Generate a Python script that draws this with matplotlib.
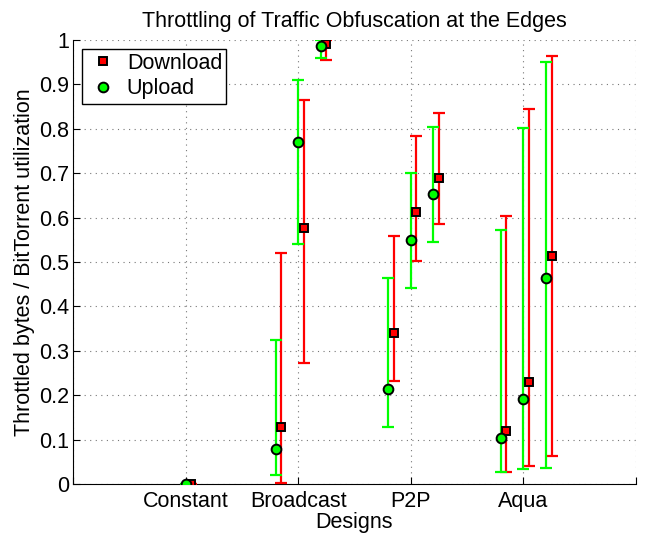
import matplotlib
matplotlib.use('Agg')
import matplotlib.pyplot as plt
import numpy as np

plt.rcParams['font.family'] = ['Liberation Sans', 'DejaVu Sans']

# categories on the x axis and the configurations inside each of them
CATEGORIES = ['Constant', 'Broadcast', 'P2P', 'Aqua']
CONFIG_COUNT = [1, 3, 3, 3]

# upload utilization: mean and error bar lower / upper ends
UPLOAD_MEAN = [0.0, 0.078, 0.771, 0.987, 0.213, 0.549, 0.654, 0.103, 0.192, 0.463]
UPLOAD_LO = [0.0, 0.020, 0.541, 0.959, 0.129, 0.442, 0.545, 0.026, 0.034, 0.037]
UPLOAD_HI = [0.0, 0.325, 0.910, 1.000, 0.463, 0.701, 0.805, 0.572, 0.801, 0.951]

# download utilization: mean and error bar lower / upper ends
DOWNLOAD_MEAN = [0.0, 0.129, 0.576, 0.992, 0.340, 0.612, 0.690, 0.120, 0.230, 0.513]
DOWNLOAD_LO = [0.0, 0.003, 0.272, 0.955, 0.233, 0.503, 0.585, 0.028, 0.041, 0.062]
DOWNLOAD_HI = [0.0, 0.521, 0.865, 1.000, 0.558, 0.784, 0.835, 0.603, 0.844, 0.965]

Y_TICKS = [0, 0.1, 0.2, 0.3, 0.4, 0.5, 0.6, 0.7, 0.8, 0.9, 1]
Y_TICK_LABELS = ['0', '0.1', '0.2', '0.3', '0.4', '0.5', '0.6', '0.7', '0.8', '0.9', '1']

FS = 15.5


def config_positions():
    """x position of every configuration, spread around its category"""
    xs = []
    for i, n in enumerate(CONFIG_COUNT):
        if n == 1:
            xs.append(i + 1.0)
        else:
            for k in range(n):
                xs.append(i + 1 + (k - (n - 1) / 2) * 0.2)
    return np.array(xs)


def draw_series(ax, x, mean, lo, hi, marker, color, label, ms):
    mean = np.array(mean)
    yerr = [mean - np.array(lo), np.array(hi) - mean]
    ax.errorbar(x, mean, yerr=yerr, fmt='none', ecolor=color,
                elinewidth=1.6, capsize=4, capthick=1.6, zorder=3)
    ax.plot(x, mean, linestyle='none', marker=marker, markersize=ms,
            markerfacecolor=color, markeredgecolor='black',
            markeredgewidth=1.4, label=label, zorder=4)


def main():
    fig = plt.figure(figsize=(6.46, 5.33), dpi=100)
    ax = fig.add_axes([0.113, 0.092, 0.8715, 0.833])

    x = config_positions()
    draw_series(ax, x + 0.05, DOWNLOAD_MEAN, DOWNLOAD_LO, DOWNLOAD_HI,
                's', '#ff0000', 'Download', 6)
    draw_series(ax, x, UPLOAD_MEAN, UPLOAD_LO, UPLOAD_HI,
                'o', '#00ff00', 'Upload', 7)

    ax.set_xlim(0, 5)
    ax.set_ylim(0, 1)
    ax.set_xticks(range(0, 6))
    ax.set_xticklabels([''] + CATEGORIES + [''], fontsize=FS)
    ax.set_yticks(Y_TICKS)
    ax.set_yticklabels(Y_TICK_LABELS, fontsize=FS)
    ax.tick_params(direction='in', length=5, width=0.8, top=False, right=False)
    ax.tick_params(axis='x', pad=5)
    ax.tick_params(axis='y', pad=3)

    ax.spines['top'].set_visible(False)
    ax.spines['right'].set_visible(False)
    ax.grid(True, linestyle=(0, (1, 4)), color='#777777', linewidth=0.8)
    ax.set_axisbelow(True)

    ax.set_xlabel('Designs', fontsize=FS, labelpad=0)
    ax.set_ylabel('Throttled bytes / BitTorrent utilization', fontsize=FS, labelpad=3)
    ax.set_title('Throttling of Traffic Obfuscation at the Edges', fontsize=FS, pad=9)

    leg = ax.legend(loc='upper left', fontsize=FS, fancybox=False,
                    edgecolor='black', framealpha=1, borderaxespad=0.4,
                    handletextpad=0.3, borderpad=0.2, labelspacing=0.2,
                    handlelength=1.6)
    leg.get_frame().set_linewidth(1.0)

    fig.savefig('out.png', dpi=100)


if __name__ == '__main__':
    main()
